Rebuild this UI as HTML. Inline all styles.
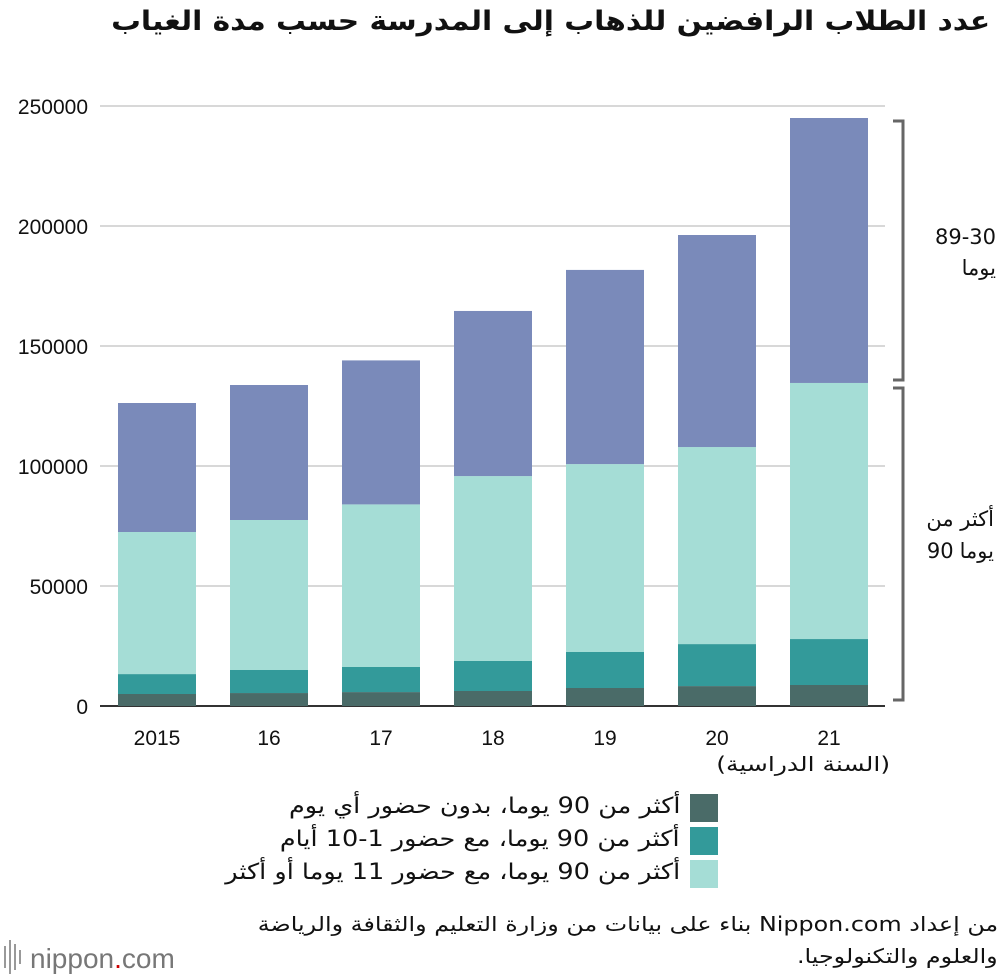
<!DOCTYPE html>
<html lang="ar"><head><meta charset="utf-8">
<style>
body{margin:0;background:#fff;width:1000px;height:978px;overflow:hidden;position:relative;font-family:"Liberation Sans","DejaVu Sans",sans-serif;}
svg text{font-family:"Liberation Sans","DejaVu Sans",sans-serif;}
.t{position:absolute;white-space:nowrap;color:#111;font-family:"DejaVu Sans","Liberation Sans",sans-serif;}
.r{direction:rtl;text-align:right;transform-origin:right top;}
.row{display:flex;gap:6px;direction:ltr;}
</style></head>
<body>
<svg id="chart" width="1000" height="978" style="position:absolute;left:0;top:0">
<g id="grid"></g><g id="bars"></g><g id="xl"></g>
<path d="M893 121 H903 V380 H893 M893 388 H903 V700 H893" fill="none" stroke="#666" stroke-width="3"/>
<g>
<rect x="690" y="794" width="28" height="28" fill="#4a6b68"/>
<rect x="690" y="827" width="28" height="28" fill="#339a9a"/>
<rect x="690" y="860" width="28" height="28" fill="#a5ddd6"/>
</g>
<g>
<g fill="#999"><rect x="4" y="946" width="2" height="22"/><rect x="9" y="940" width="2" height="34"/><rect x="14" y="944" width="2" height="26"/><rect x="19" y="950" width="2" height="14"/></g>
<text x="30" y="968" font-size="28" fill="#777">nippon<tspan fill="#c00">.</tspan>com</text>
</g>
</svg>
<div class="t r" dir="rtl" style="right:10px;top:6px;font-size:27px;font-weight:bold;transform:scaleX(1.1)">عدد الطلاب الرافضين للذهاب إلى المدرسة حسب مدة الغياب</div>
<div class="t r" dir="rtl" style="right:110px;top:752px;font-size:20px;transform:scaleX(1.25)">(السنة الدراسية)</div>
<div class="t row" style="right:4px;top:225px;font-size:21px;gap:0"><span>89</span><span>-</span><span>30</span></div>
<div class="t" dir="rtl" style="right:4px;top:256px;font-size:21px;text-align:right">يوما</div>
<div class="t" dir="rtl" style="right:6px;top:507px;font-size:21px;text-align:right">أكثر من</div>
<div class="t row" style="right:6px;top:539px;font-size:21px"><span>90</span><span dir="rtl">يوما</span></div>
<div class="t r" dir="rtl" style="right:320px;top:794px;font-size:22px;transform:scaleX(1.16)">أكثر من 90 يوما، بدون حضور أي يوم</div>
<div class="t r" dir="rtl" style="right:320px;top:827px;font-size:22px;transform:scaleX(1.16)">أكثر من 90 يوما، مع حضور 1-10 أيام</div>
<div class="t r" dir="rtl" style="right:320px;top:860px;font-size:22px;transform:scaleX(1.16)">أكثر من 90 يوما، مع حضور 11 يوما أو أكثر</div>
<div class="t r" dir="rtl" style="right:2px;top:908px;font-size:20px;line-height:32px;transform:scaleX(1.19)">من إعداد Nippon.com بناء على بيانات من وزارة التعليم والثقافة والرياضة</div>
<div class="t r" dir="rtl" style="right:2px;top:940px;font-size:20px;line-height:32px;transform:scaleX(1.19)">والعلوم والتكنولوجيا.</div>
<script>
const years=["2015","16","17","18","19","20","21"];
const noAttend=[5000,5400,5800,6250,7500,8300,8750];
const attend1to10=[8300,9600,10450,12500,15000,17500,19150];
const attend11plus=[59200,62500,67750,77050,78300,82100,106700];
const days30to89=[53750,56250,60000,68800,80900,88350,110400];
const yTicks=[0,50000,100000,150000,200000,250000];
const NS="http://www.w3.org/2000/svg";
const y=v=>706-v*0.0024;
const x=i=>157+i*112;
function mk(t,a,p){const e=document.createElementNS(NS,t);for(const k in a)e.setAttribute(k,a[k]);p.appendChild(e);return e;}
const grid=document.getElementById('grid'),bars=document.getElementById('bars'),xl=document.getElementById('xl');
yTicks.forEach(v=>{
 const l=mk('line',{x1:100,x2:885,y1:y(v),y2:y(v),stroke:v===0?'#333':'#ccc','stroke-width':v===0?2:1.5},grid);
 
 
 const t=mk('text',{x:88,y:y(v)+8,'text-anchor':'end','font-size':21,fill:'#111'},grid);
 t.textContent=v;
 
 
});
const series=[[noAttend,'#4a6b68','no-attendance'],[attend1to10,'#339a9a','attend-1-10'],[attend11plus,'#a5ddd6','attend-11-plus'],[days30to89,'#7a8aba','days-30-89']];
years.forEach((yr,i)=>{
 let base=0;
 series.forEach(([arr,c,n])=>{
  const top=base+arr[i];
  const r=mk('rect',{x:x(i)-39,width:78,y:y(top),height:y(base)-y(top),fill:c},bars);
  
  
  base=top;
 });
 const t=mk('text',{x:x(i),y:745,'text-anchor':'middle','font-size':21,fill:'#111'},xl);
 t.textContent=yr;
 
 
});
</script>
</body></html>
